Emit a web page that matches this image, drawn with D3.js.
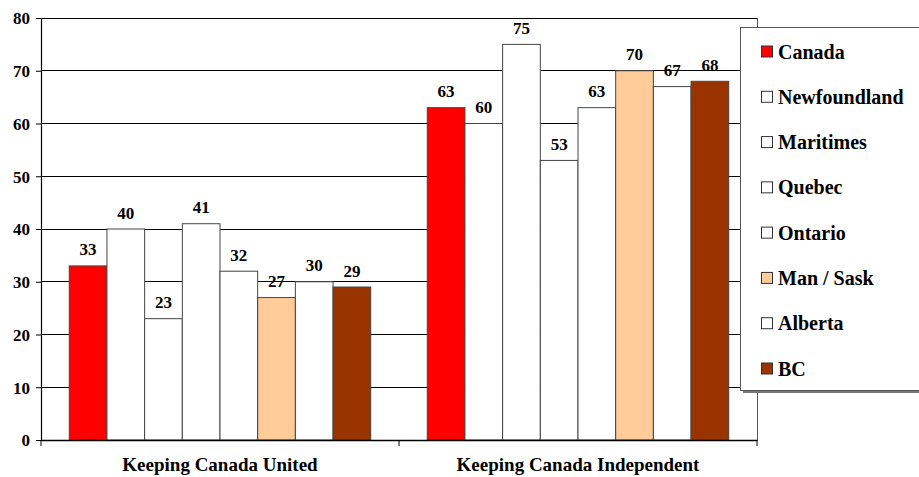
<!DOCTYPE html>
<html><head><meta charset="utf-8">
<script src="https://cdn.jsdelivr.net/npm/d3@7/dist/d3.min.js"></script>
</head><body style="margin:0;background:#fff">
<svg id="c" width="919" height="477" font-family="Liberation Serif" style="display:block;font-family:'Liberation Serif','Times New Roman',Tinos,serif"></svg>
<script>
const categories = ["Keeping Canada United", "Keeping Canada Independent"];
const regions = ["Canada", "Newfoundland", "Maritimes", "Quebec", "Ontario", "Man / Sask", "Alberta", "BC"];
const colors = ["#FF0000", "#FFFFFF", "#FFFFFF", "#FFFFFF", "#FFFFFF", "#FFCC99", "#FFFFFF", "#993300"];
const united = [33, 40, 23, 41, 32, 27, 30, 29];
const independent = [63, 60, 75, 53, 63, 70, 67, 68];
const yTicks = [0, 10, 20, 30, 40, 50, 60, 70, 80];
const values = [united, independent];

const svg = d3.select("#c");
function serif(sel, size) {
  sel.attr("font-family", "Liberation Serif")
     .style("font-family", "'Liberation Serif', 'Times New Roman', Tinos, serif")
     .attr("font-weight", "bold").attr("font-size", size).attr("fill", "#000");
  return sel;
}
const L = 41, R = 757, T = 18, B = 440;
const y = d3.scaleLinear().domain([0, 80]).range([B, T]);
const x0 = d3.scaleBand().domain(categories).range([L, R]).paddingInner(0).paddingOuter(0);
const x1 = d3.scaleBand().domain(regions).range([0, x0.bandwidth()]).paddingOuter(0.75).paddingInner(0);

// gridlines
svg.append("g").selectAll("line").data(yTicks.filter(d => d > 0)).join("line")
  .attr("x1", L).attr("x2", R).attr("y1", d => y(d)).attr("y2", d => y(d))
  .attr("stroke", "#000").attr("stroke-width", 1).attr("shape-rendering", "crispEdges");
// plot right border
svg.append("line").attr("x1", R).attr("x2", R).attr("y1", T).attr("y2", B)
  .attr("stroke", "#555").attr("stroke-width", 1).attr("shape-rendering", "crispEdges");

// bars
const groups = svg.append("g").selectAll("g").data(categories).join("g")
  .attr("transform", d => `translate(${x0(d)},0)`);
groups.selectAll("rect").data((c, i) => values[i].map((v, j) => ({v, r: regions[j], c: colors[j]}))).join("rect")
  .attr("x", d => x1(d.r)).attr("width", x1.bandwidth())
  .attr("y", d => y(d.v)).attr("height", d => B - y(d.v))
  .attr("fill", d => d.c).attr("stroke", "#444").attr("stroke-width", 1);
serif(groups.selectAll("text").data((c, i) => values[i].map((v, j) => ({v, r: regions[j]}))).join("text")
  .attr("x", d => x1(d.r) + x1.bandwidth() / 2).attr("y", d => y(d.v) - 10.5)
  .attr("text-anchor", "middle").text(d => d.v), 17);

// y axis
const yAxis = d3.axisLeft(y).tickValues(yTicks).tickSize(5).tickPadding(6);
const gy = svg.append("g").attr("transform", `translate(${L},0)`).call(yAxis);
gy.attr("font-family", "Liberation Serif").attr("font-size", 17);
gy.select(".domain").attr("stroke", "#000").attr("stroke-width", 1.2);
gy.selectAll(".tick line").attr("stroke", "#000");
serif(gy.selectAll("text"), 17).attr("dy", "0.35em");

// x axis
const xAxis = d3.axisBottom(x0).tickSize(0).tickPadding(18);
const gx = svg.append("g").attr("transform", `translate(0,${B})`).call(xAxis);
gx.attr("font-family", "Liberation Serif").attr("font-size", 19);
gx.select(".domain").attr("stroke", "#000").attr("stroke-width", 1.5);
serif(gx.selectAll("text"), 19);
gx.selectAll(".bnd").data([L, x0(categories[1]), R]).join("line").attr("class", "bnd")
  .attr("x1", d => d).attr("x2", d => d).attr("y1", 0).attr("y2", 6).attr("stroke", "#000");

// legend
const lg = svg.append("g");
lg.append("rect").attr("x", 743).attr("y", 30).attr("width", 200).attr("height", 363).attr("fill", "#777");
lg.append("rect").attr("x", 740.5).attr("y", 27.5).attr("width", 200).attr("height", 363)
  .attr("fill", "#fff").attr("stroke", "#555").attr("stroke-width", 1);
const ly = d3.scalePoint().domain(regions).range([51.5, 368.5]);
const items = lg.selectAll("g.it").data(regions).join("g").attr("class", "it")
  .attr("transform", d => `translate(0,${ly(d)})`);
items.append("rect").attr("x", 761.5).attr("y", -5.5).attr("width", 11).attr("height", 11)
  .attr("fill", (d, i) => colors[i]).attr("stroke", "#333").attr("stroke-width", 1);
serif(items.append("text").attr("x", 778).attr("y", 0).attr("dy", "0.35em").text(d => d), 20);
</script>
</body></html>
